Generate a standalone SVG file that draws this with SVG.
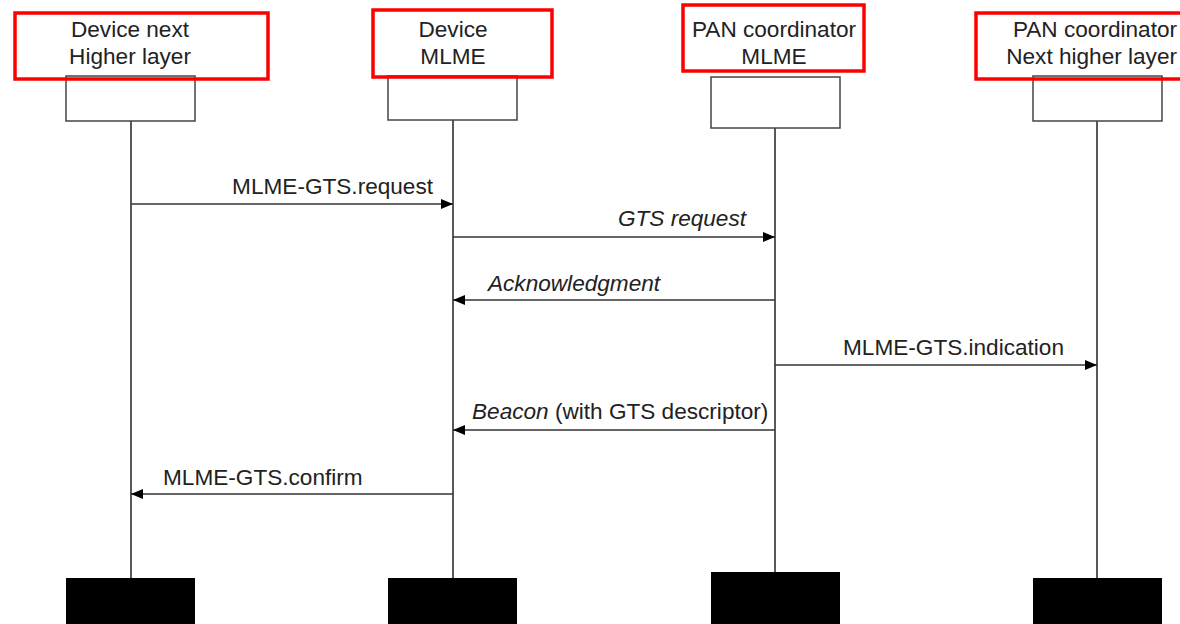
<svg xmlns="http://www.w3.org/2000/svg" width="1180" height="624" viewBox="0 0 1180 624">
<style>
.hdr{font-family:"Liberation Sans",Arial,sans-serif;font-size:22.6px;fill:#222;text-anchor:middle}
.hdr-r{font-family:"Liberation Sans",Arial,sans-serif;font-size:22.6px;fill:#222;text-anchor:end}
.msg{font-family:"Liberation Sans",Arial,sans-serif;font-size:22.6px;fill:#222}
.it{font-style:italic}
.box{fill:#fff;stroke:#444;stroke-width:1.5}
.red{fill:none;stroke:#f00;stroke-width:3.5}
.life{stroke:#222;stroke-width:1.5}
.end{fill:#000}
.arr{stroke:#333;stroke-width:1.6;fill:none}
</style>
<defs>
<marker id="ah" viewBox="0 0 12 10" refX="12" refY="5" markerWidth="12" markerHeight="10" markerUnits="userSpaceOnUse" orient="auto">
<path d="M0,0 L12,5 L0,10 Z" fill="#000"/>
</marker>
</defs>
<rect width="1180" height="624" fill="#fff"/>
<g id="dev-nhl">
<line class="life" x1="131" y1="121" x2="131" y2="578"/>
<rect class="box" x="66" y="76" width="129" height="45"/>
<rect class="end" x="66" y="578" width="129" height="46"/>
<rect class="red" x="15" y="13" width="253" height="66"/>
<text class="hdr" x="130" y="37">Device next</text>
<text class="hdr" x="130" y="64">Higher layer</text>
</g>
<g id="dev-mlme">
<line class="life" x1="453" y1="120" x2="453" y2="578"/>
<rect class="box" x="388" y="76" width="129" height="44"/>
<rect class="end" x="388" y="578" width="129" height="46"/>
<rect class="red" x="373" y="10" width="179" height="67"/>
<text class="hdr" x="453" y="37">Device</text>
<text class="hdr" x="453" y="64">MLME</text>
</g>
<g id="pan-mlme">
<line class="life" x1="775" y1="128" x2="775" y2="572"/>
<rect class="box" x="711" y="77" width="129" height="51"/>
<rect class="end" x="711" y="572" width="129" height="52"/>
<rect class="red" x="683" y="5" width="181" height="66"/>
<text class="hdr" x="774" y="37">PAN coordinator</text>
<text class="hdr" x="774" y="64">MLME</text>
</g>
<g id="pan-nhl">
<line class="life" x1="1097" y1="121" x2="1097" y2="578"/>
<rect class="box" x="1033" y="76" width="129" height="45"/>
<rect class="end" x="1033" y="578" width="129" height="46"/>
<rect class="red" x="976" y="13" width="220" height="66"/>
<text class="hdr-r" x="1177" y="37">PAN coordinator</text>
<text class="hdr-r" x="1177" y="64">Next higher layer</text>
</g>
<g id="connectors">
<line class="arr" x1="131" y1="204" x2="453" y2="204" marker-end="url(#ah)"/>
<line class="arr" x1="453" y1="237" x2="775" y2="237" marker-end="url(#ah)"/>
<line class="arr" x1="775" y1="300" x2="453" y2="300" marker-end="url(#ah)"/>
<line class="arr" x1="775" y1="365" x2="1097" y2="365" marker-end="url(#ah)"/>
<line class="arr" x1="775" y1="430" x2="453" y2="430" marker-end="url(#ah)"/>
<line class="arr" x1="453" y1="494" x2="131" y2="494" marker-end="url(#ah)"/>
</g>
<g id="labels">
<text class="msg" x="433" y="194" text-anchor="end">MLME-GTS.request</text>
<text class="msg it" x="746" y="226" text-anchor="end">GTS request</text>
<text class="msg it" x="488" y="291">Acknowledgment</text>
<text class="msg" x="843" y="355">MLME-GTS.indication</text>
<text class="msg" x="472" y="419"><tspan class="it">Beacon</tspan> (with GTS descriptor)</text>
<text class="msg" x="163" y="485">MLME-GTS.confirm</text>
</g>
</svg>
